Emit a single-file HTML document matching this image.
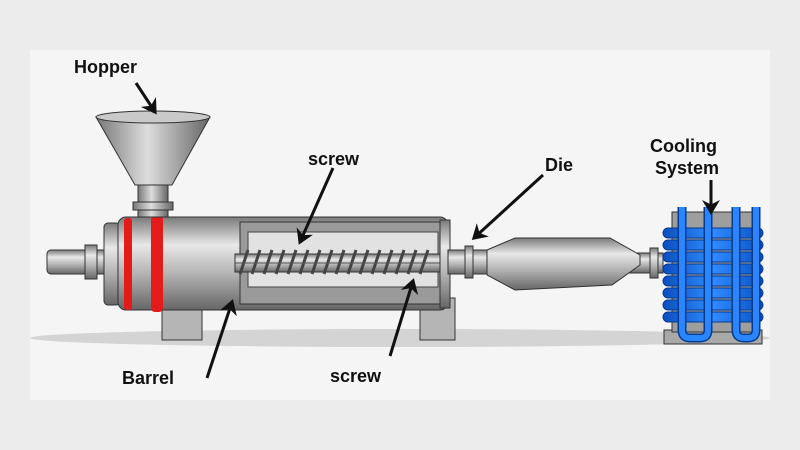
<!DOCTYPE html>
<html><head><style>
html,body{margin:0;padding:0;background:#ececec;}
svg{display:block;}
text{font-family:"Liberation Sans",Arial,sans-serif;font-weight:bold;fill:#111;}
</style></head><body>
<svg width="800" height="450" viewBox="0 0 800 450" xmlns="http://www.w3.org/2000/svg">
<defs>
<linearGradient id="met" x1="0" y1="0" x2="0" y2="1">
<stop offset="0" stop-color="#7a7a7a"/><stop offset="0.3" stop-color="#e8e8e8"/><stop offset="0.6" stop-color="#b5b5b5"/><stop offset="1" stop-color="#666"/></linearGradient>
<linearGradient id="metH" x1="0" y1="0" x2="1" y2="0">
<stop offset="0" stop-color="#777"/><stop offset="0.45" stop-color="#ddd"/><stop offset="1" stop-color="#666"/></linearGradient>
<linearGradient id="blue" x1="0" y1="0" x2="1" y2="0">
<stop offset="0" stop-color="#0a4fc0"/><stop offset="0.5" stop-color="#2f8cff"/><stop offset="1" stop-color="#0a4fc0"/></linearGradient>
<marker id="ah" markerWidth="6" markerHeight="6" refX="4" refY="3" orient="auto" markerUnits="strokeWidth"><path d="M0,0 L5,3 L0,6 L1.5,3 Z" fill="#111"/></marker>
</defs>
<rect width="800" height="450" fill="#ececec"/>
<rect x="30" y="50" width="740" height="350" fill="#f5f5f5"/>
<ellipse cx="400" cy="338" rx="370" ry="9" fill="#d4d4d4"/>
<!-- left shaft -->
<rect x="47" y="250" width="65" height="24" rx="4" fill="url(#met)" stroke="#333"/>
<rect x="85" y="245" width="12" height="34" fill="url(#met)" stroke="#333"/>
<!-- flange -->
<rect x="104" y="223" width="16" height="82" rx="4" fill="url(#met)" stroke="#333"/>
<!-- legs -->
<rect x="162" y="298" width="40" height="42" fill="#b5b5b5" stroke="#333"/>
<rect x="420" y="298" width="35" height="42" fill="#b5b5b5" stroke="#333"/>
<!-- barrel -->
<rect x="118" y="217" width="330" height="93" rx="8" fill="url(#met)" stroke="#333"/>
<!-- cutaway window -->
<rect x="240" y="222" width="200" height="82" fill="#9a9a9a" stroke="#333"/>
<rect x="248" y="232" width="190" height="55" fill="#e2e2e2" stroke="#444"/>
<!-- screw -->
<rect x="235" y="254" width="235" height="18" fill="url(#met)" stroke="#333"/>
<g stroke="#444" stroke-width="3" fill="none">
<path d="M240,274 l8,-24 M252,274 l8,-24 M264,274 l8,-24 M276,274 l8,-24 M288,274 l8,-24 M300,274 l8,-24 M312,274 l8,-24 M324,274 l8,-24 M336,274 l8,-24 M348,274 l8,-24 M360,274 l8,-24 M372,274 l8,-24 M384,274 l8,-24 M396,274 l8,-24 M408,274 l8,-24 M420,274 l8,-24"/>
</g>
<line x1="235" y1="263" x2="440" y2="263" stroke="#555" stroke-width="1"/>
<!-- red bands -->
<rect x="124" y="218" width="8" height="92" rx="3" fill="#e41b1b"/>
<rect x="151" y="216" width="12" height="96" rx="4" fill="#e41b1b"/>
<!-- end cap -->
<rect x="440" y="220" width="10" height="88" fill="url(#met)" stroke="#333"/>
<rect x="448" y="250" width="42" height="24" fill="url(#met)" stroke="#333"/>
<rect x="465" y="246" width="8" height="32" fill="url(#met)" stroke="#333"/>
<!-- hopper -->
<path d="M96,117 L210,117 L172,185 L135,185 Z" fill="url(#metH)" stroke="#333"/>
<ellipse cx="153" cy="117" rx="57" ry="6" fill="#c9c9c9" stroke="#333"/>
<rect x="138" y="185" width="30" height="32" fill="url(#metH)" stroke="#333"/>
<rect x="133" y="202" width="40" height="8" fill="url(#metH)" stroke="#333"/>
<!-- die -->
<rect x="488" y="253" width="175" height="20" fill="url(#met)" stroke="#333"/>
<path d="M487,250 L515,238 L610,238 L640,255 L640,265 L612,285 L515,290 L487,275 Z" fill="url(#met)" stroke="#333"/>
<rect x="650" y="248" width="8" height="30" fill="url(#met)" stroke="#333"/>
<!-- cooling system -->
<rect x="664" y="330" width="98" height="14" fill="#a9a9a9" stroke="#333"/>
<rect x="672" y="212" width="82" height="120" fill="#9e9e9e" stroke="#333"/>
<g fill="url(#blue)" stroke="#063a8f">
<rect x="663" y="228" width="100" height="10" rx="5"/><rect x="663" y="240" width="100" height="10" rx="5"/>
<rect x="663" y="252" width="100" height="10" rx="5"/><rect x="663" y="264" width="100" height="10" rx="5"/>
<rect x="663" y="276" width="100" height="10" rx="5"/><rect x="663" y="288" width="100" height="10" rx="5"/>
<rect x="663" y="300" width="100" height="10" rx="5"/><rect x="663" y="312" width="100" height="10" rx="5"/>
</g>
<path d="M682,207 L682,330 Q682,338 690,338 L700,338 Q708,338 708,330 L708,207" fill="none" stroke="#063a8f" stroke-width="9"/>
<path d="M682,207 L682,330 Q682,338 690,338 L700,338 Q708,338 708,330 L708,207" fill="none" stroke="#2a86ff" stroke-width="6"/>
<path d="M736,207 L736,330 Q736,338 744,338 L748,338 Q756,338 756,330 L756,207" fill="none" stroke="#063a8f" stroke-width="9"/>
<path d="M736,207 L736,330 Q736,338 744,338 L748,338 Q756,338 756,330 L756,207" fill="none" stroke="#2a86ff" stroke-width="6"/>
<!-- labels -->
<text x="74" y="73" font-size="18">Hopper</text>
<text x="308" y="165" font-size="18">screw</text>
<text x="545" y="171" font-size="18">Die</text>
<text x="650" y="152" font-size="18">Cooling</text>
<text x="655" y="174" font-size="18">System</text>
<text x="122" y="384" font-size="18">Barrel</text>
<text x="330" y="382" font-size="18">screw</text>
<!-- arrows -->
<g stroke="#111" stroke-width="3" fill="none" marker-end="url(#ah)">
<line x1="136" y1="83" x2="155" y2="112"/>
<line x1="333" y1="168" x2="300" y2="242"/>
<line x1="543" y1="175" x2="474" y2="238"/>
<line x1="711" y1="180" x2="711" y2="212"/>
<line x1="207" y1="378" x2="232" y2="302"/>
<line x1="390" y1="356" x2="413" y2="281"/>
</g>
</svg>
</body></html>
